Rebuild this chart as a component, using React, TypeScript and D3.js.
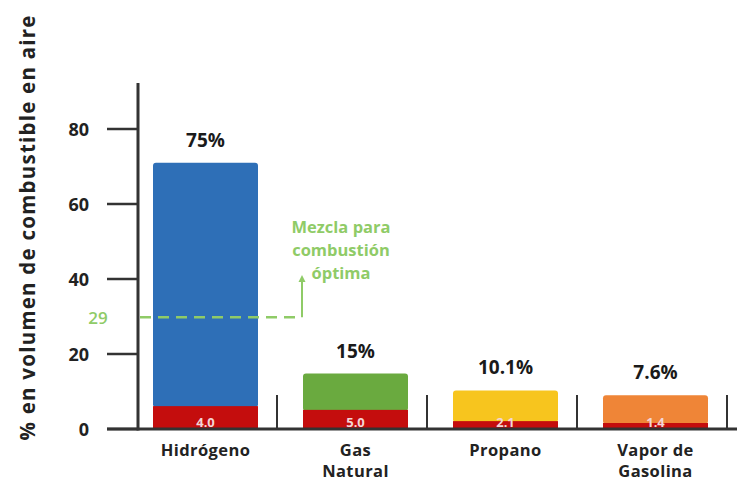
import React from "react";
import * as d3 from "d3";

const categories = ["Hidrógeno", "Gas Natural", "Propano", "Vapor de Gasolina"];
const categoryLines = [["Hidrógeno"], ["Gas", "Natural"], ["Propano"], ["Vapor de", "Gasolina"]];
const upperValues = [71, 14.8, 10.3, 9.0];
const lowerValues = [6.1, 5.1, 2.1, 1.6];
const upperLabels = ["75%", "15%", "10.1%", "7.6%"];
const lowerLabels = ["4.0", "5.0", "2.1", "1.4"];
const upperColors = ["#2e6fb7", "#6aaa3f", "#f7c51e", "#ef8537"];
const lowerColor = "#c40d0d";
const yTicks = [0, 20, 40, 60, 80];
const optimalValue = 29;
const annotationLines = ["Mezcla para", "combustión", "óptima"];
const yTitle = "% en volumen de combustible en aire";

const W = 737;
const H = 481;
const FONT = "'Open Sans', 'Noto Sans', sans-serif";

export default function App() {
  const x = d3.scaleBand<string>().domain(categories).range([130.5, 730.5]).paddingInner(0.3).paddingOuter(0.15);
  const y = d3.scaleLinear().domain([0, 80]).range([429, 129]);
  const axisX = 138;
  const green = "#8fcb67";
  const bw = x.bandwidth();
  const yOpt = y(optimalValue) - 3;
  const arrowX = 302;
  return (
    <svg width={W} height={H} style={{ position: "absolute", left: 0, top: 0, background: "#fff" }} fontFamily={FONT}>
      <rect width={W} height={H} fill="#fff" />
      {/* y title */}
      <text transform={`translate(35,${228}) rotate(-90)`} textAnchor="middle" fontSize={20.5} fontWeight={700} fill="#222" textLength={425} lengthAdjust="spacing">
        {yTitle}
      </text>
      {/* bars */}
      {categories.map((c, i) => (
        <g key={c}>
          <rect x={x(c)} y={y(upperValues[i])} width={bw} height={y(lowerValues[i]) - y(upperValues[i]) + 1} fill={upperColors[i]} rx={3} />
          <rect x={x(c)} y={y(lowerValues[i])} width={bw} height={y(0) - y(lowerValues[i])} fill={lowerColor} />
          <text x={x(c)! + bw / 2} y={y(upperValues[i]) - 16} textAnchor="middle" fontSize={19} fontWeight={700} fill="#1a1a1a">
            {upperLabels[i]}
          </text>
          <text x={x(c)! + bw / 2} y={y(0) - 2.5} textAnchor="middle" fontSize={13} fontWeight={700} fill="#f3d6d6">
            {lowerLabels[i]}
          </text>
          <line x1={x(c)! + bw + 19} x2={x(c)! + bw + 19} y1={y(0)} y2={y(0) - 34} stroke="#333" strokeWidth={2} />
          <text textAnchor="middle" fontSize={16.5} fontWeight={700} fill="#222" letterSpacing={0.4}>
            {categoryLines[i].map((l, j) => (
              <tspan key={j} x={x(c)! + bw / 2} y={y(0) + 27 + j * 21}>{l}</tspan>
            ))}
          </text>
        </g>
      ))}
      {/* axes */}
      <line x1={axisX} x2={axisX} y1={83} y2={y(0) + 1.5} stroke="#333" strokeWidth={3} />
      <line x1={107} x2={W} y1={y(0)} y2={y(0)} stroke="#333" strokeWidth={3} />
      {yTicks.map((t) => (
        <g key={t}>
          <line x1={107} x2={axisX} y1={y(t)} y2={y(t)} stroke="#333" strokeWidth={2.5} />
          <text x={89} y={y(t) + 6.5} textAnchor="end" fontSize={18} fontWeight={700} fill="#222">{t}</text>
        </g>
      ))}
      {/* optimal mixture annotation */}
      <text x={98} y={yOpt + 6.5} textAnchor="middle" fontSize={17} fontWeight={600} fill={green}>{optimalValue}</text>
      <line x1={axisX + 2} x2={arrowX} y1={yOpt} y2={yOpt} stroke={green} strokeWidth={2.5} strokeDasharray="11 7" />
      <line x1={arrowX} x2={arrowX} y1={yOpt} y2={280} stroke={green} strokeWidth={2} />
      <path d={`M${arrowX - 3.5},${282} L${arrowX},${275} L${arrowX + 3.5},${282} Z`} fill={green} />
      <text textAnchor="middle" fontSize={16.5} fontWeight={700} fill={green}>
        {annotationLines.map((l, j) => (
          <tspan key={j} x={341} y={233 + j * 23}>{l}</tspan>
        ))}
      </text>
    </svg>
  );
}
